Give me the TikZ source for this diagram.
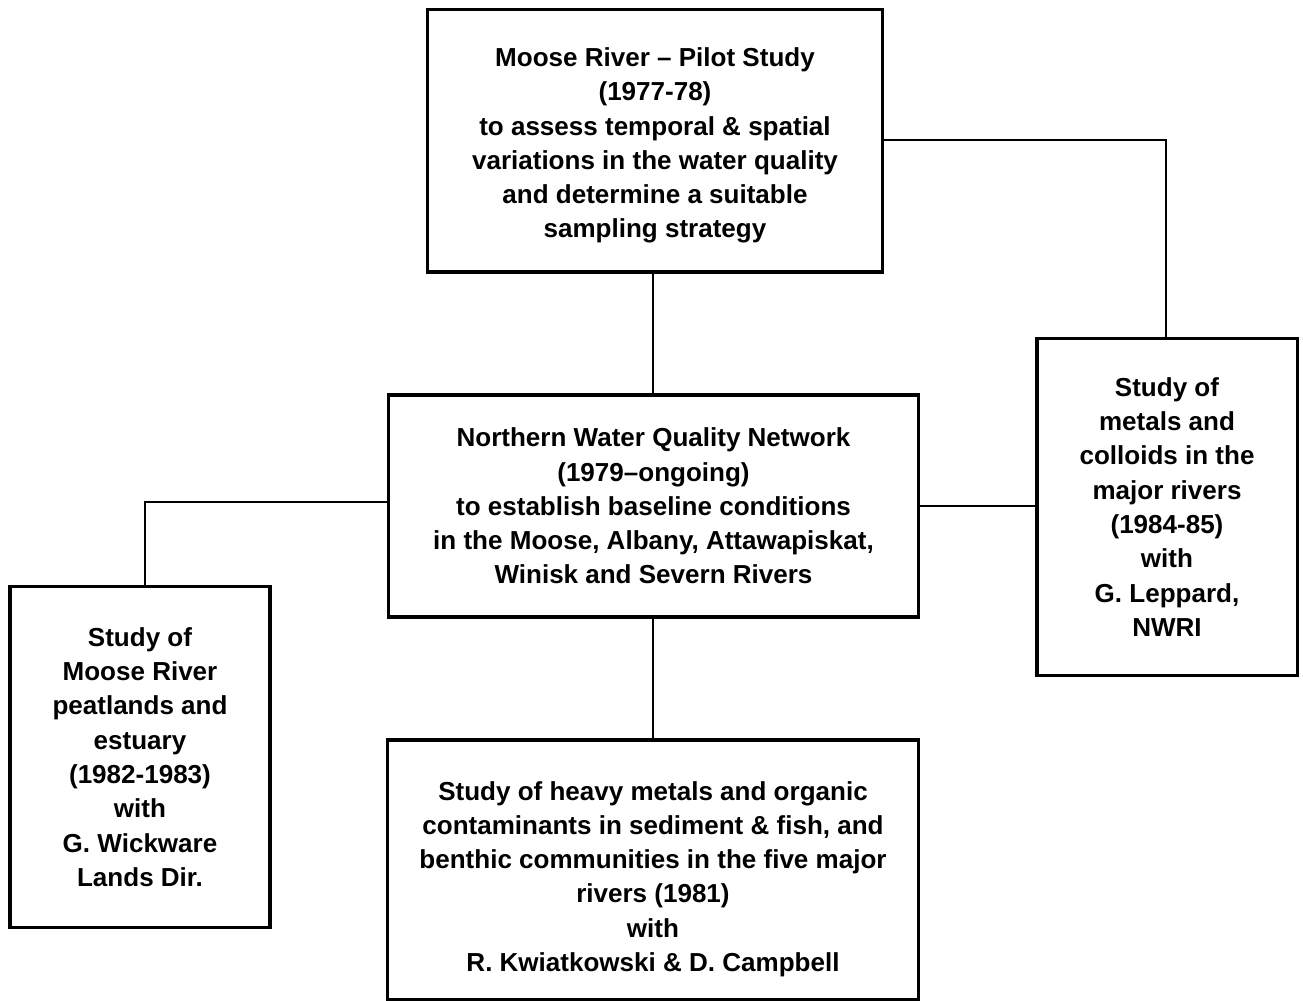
\documentclass[tikz,border=0pt]{standalone}
\usepackage{fontspec}
\setmainfont{Liberation Sans}
\begin{document}
\begin{tikzpicture}[x=0.01cm,y=-0.01cm,
  box/.style={draw,line width=0.9pt,align=center,inner sep=0pt,
    font=\fontsize{7.4pt}{9.75pt}\selectfont\bfseries},
  conn/.style={line width=0.7pt}]
\useasboundingbox (0,0) rectangle (1303,1001);
\node[box,minimum width=4.54cm,minimum height=2.62cm] (top) at (655,141)
 {\rule{0pt}{0.28cm}Moose River -- Pilot Study\\(1977-78)\\to assess temporal \& spatial\\variations in the water quality\\and determine a suitable\\sampling strategy};
\node[box,minimum width=5.29cm,minimum height=2.22cm] (mid) at (653.5,506)
 {Northern Water Quality Network\\(1979--ongoing)\\to establish baseline conditions\\in the Moose, Albany, Attawapiskat,\\Winisk and Severn Rivers};
\node[box,minimum width=2.60cm,minimum height=3.36cm] (right) at (1167,507)
 {Study of\\metals and\\colloids in the\\major rivers\\(1984-85)\\with\\G. Leppard,\\NWRI};
\node[box,minimum width=2.60cm,minimum height=3.40cm] (left) at (140,757)
 {Study of\\Moose River\\peatlands and\\estuary\\(1982-1983)\\with\\G. Wickware\\Lands Dir.};
\node[box,minimum width=5.30cm,minimum height=2.60cm] (bot) at (653,870)
 {\rule{0pt}{0.37cm}Study of heavy metals and organic\\contaminants in sediment \& fish, and\\benthic communities in the five major\\rivers (1981)\\with\\R. Kwiatkowski \& D. Campbell};
\draw[conn] (top.south -| 653,0) -- (mid.north -| 653,0);
\draw[conn] (top.east |- 0,140) -| (right.north -| 1166,0);
\draw[conn] (mid.east |- 0,506) -- (right.west |- 0,506);
\draw[conn] (mid.west |- 0,502) -| (left.north -| 145,0);
\draw[conn] (mid.south -| 653,0) -- (bot.north -| 653,0);
\end{tikzpicture}
\end{document}
